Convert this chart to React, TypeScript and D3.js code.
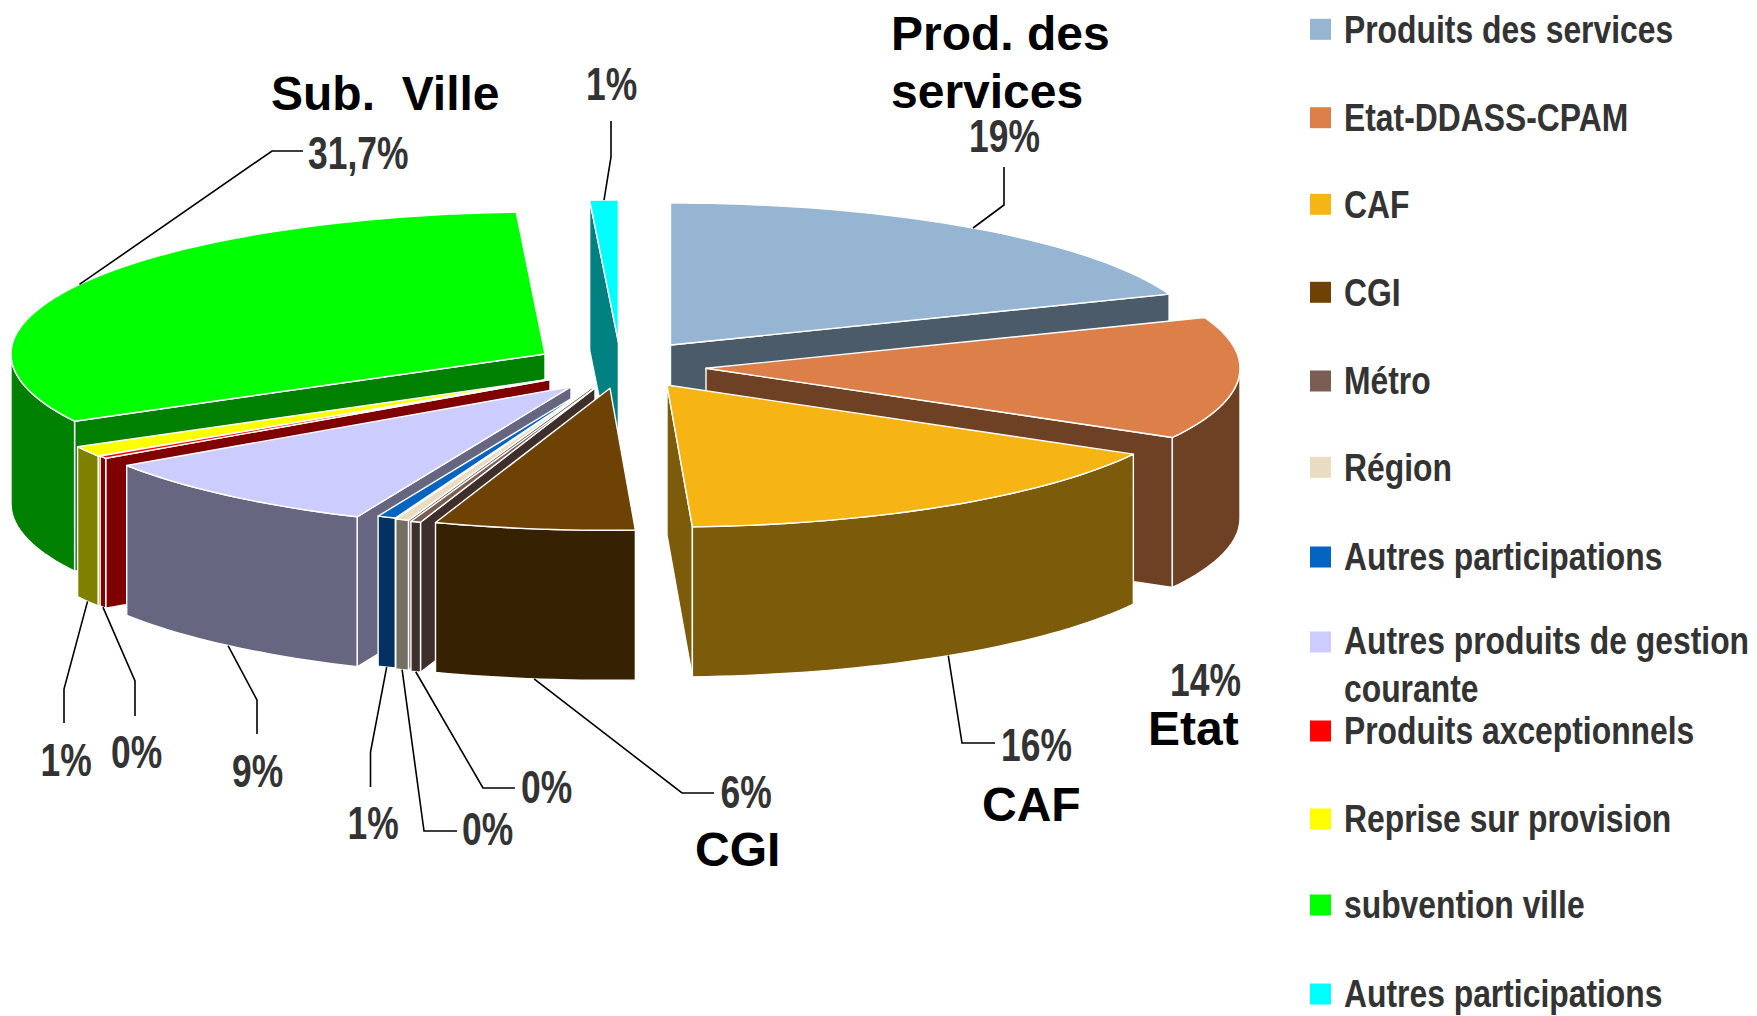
import React from "react";
import * as d3 from "d3";

// ---- data ----
const categories = ["Produits des services","Etat-DDASS-CPAM","CAF","CGI","Métro","Région","Autres participations","Autres produits de gestion|courante","Produits axceptionnels","Reprise sur provision","subvention ville","Autres participations"];
const values = [19, 13.8, 16.0, 6.0, 0.3, 0.4, 0.55, 9, 0.3, 1.2, 31.7, 0.85];
const colors = ["#95b5d2","#dc7f48","#f7b515","#6e4205","#7b5e53","#e9dcc3","#0563c1","#ccccff","#ff0000","#ffff00","#00ff00","#00ffff"];
const valueLabels = ["19%","14%","16%","6%","0%","0%","1%","9%","0%","1%","31,7%","1%"];

// ---- layout ----
const RX = 534, RY = 142, DEPTH = 150;
const apexX = [670.5, 706, 667, 610, 595, 592.5, 592, 571, 550, 548, 545, 618.4];
const apexY = [345, 368.3, 385, 388.3, 388, 387, 386, 386.7, 379.5, 379.5, 354, 342];
// label anchor (text left, baseline), elbows of the leader line
const labelX = [969, 1170, 1001, 720.5, 521, 462, 347.5, 232, 111, 40.5, 308, 586];
const labelY = [152, 696, 761, 808, 803, 845, 839, 787, 768, 776, 169, 100];
const leaderBottom = [false, false, true, true, true, true, true, true, true, true, false, false];
const leaderElbows: number[][][] = [
  [[1004,205],[1004,167]],
  [],
  [[962,743],[995,743]],
  [[682,793],[714,793]],
  [[483,788],[515,788]],
  [[424,831],[457,831]],
  [[370.5,752],[370.5,787]],
  [[257,700],[257,734]],
  [[135,681],[135,716]],
  [[64,689],[64,723]],
  [[272,151],[303,151]],
  [[611,157],[611,121]],
];
const legendY = [29.3,117.7,204.3,292.3,381,467.3,557,642,731,819,905,994];
const titles: [string, number, number][] = [
  ["Prod. des",891,50],["services",891,108],["Sub.  Ville",271,110],["Etat",1148,745],["CAF",982,821],["CGI",695,866],
];

const toRad = Math.PI / 180;
const pie = d3.pie<number>().sort(null).value((d) => d);
const arcs = pie(values);
const line = d3.line<number[]>().x((d) => d[0]).y((d) => d[1]);
const dark = (c: string) => {
  const r = d3.rgb(c);
  return d3.rgb(r.r * 0.5, r.g * 0.5, r.b * 0.5).formatHex();
};

function outer(i: number, t: number): number[] {
  return [apexX[i] + RX * Math.sin(t), apexY[i] - RY * Math.cos(t)];
}
function sample(i: number, a: number, b: number): number[][] {
  const n = Math.max(2, Math.ceil(Math.abs(b - a) / (1.5 * toRad)));
  return d3.range(n + 1).map((k) => outer(i, a + ((b - a) * k) / n));
}

const order = d3.range(values.length).sort((p, q) => {
  const d = (i: number) => {
    const m = ((arcs[i].startAngle + arcs[i].endAngle) / 2) % (2 * Math.PI);
    return Math.min(m, 2 * Math.PI - m);
  };
  return d(p) - d(q);
});

const sx = 0.825;
const STROKE = 1.4;

function Slice({ i }: { i: number }) {
  const { startAngle: a, endAngle: b } = arcs[i];
  const wall = dark(colors[i]);
  const apex = [apexX[i], apexY[i]];
  const radial = (t: number) => {
    const p = outer(i, t);
    return line([apex, p, [p[0], p[1] + DEPTH], [apex[0], apex[1] + DEPTH]])! + "Z";
  };
  const lo = Math.max(a, Math.PI / 2);
  const hi = Math.min(b, (3 * Math.PI) / 2);
  let outerWall: string | null = null;
  if (hi > lo) {
    const top = sample(i, lo, hi);
    const bottom = top.map((p) => [p[0], p[1] + DEPTH]).reverse();
    outerWall = line([...top, ...bottom])! + "Z";
  }
  const topPath = line([apex, ...sample(i, a, b)])! + "Z";
  const s = { stroke: "#fff", strokeWidth: STROKE, strokeLinejoin: "round" as const };
  return (
    <g>
      {a > Math.PI && <path d={radial(a)} fill={wall} {...s} />}
      {b < Math.PI && <path d={radial(b)} fill={wall} {...s} />}
      {outerWall && <path d={outerWall} fill={wall} {...s} />}
      <path d={topPath} fill={colors[i]} {...s} />
    </g>
  );
}

function Narrow({ x, y, children, size, scale }: any) {
  return (
    <text transform={`translate(${x},${y}) scale(${scale},1)`} fontFamily="'Liberation Sans', Arial, sans-serif" fontWeight="700" fontSize={size} fill="#333333">
      {children}
    </text>
  );
}

export default function App() {
  return (
    <svg width={1757} height={1016} viewBox="0 0 1757 1016" style={{ position: "absolute", left: 0, top: 0, display: "block", background: "#fff" }}>
      {order.map((i) => <Slice key={i} i={i} />)}
      {values.map((_, i) => {
        if (!leaderElbows[i].length) return null;
        const mid = (arcs[i].startAngle + arcs[i].endAngle) / 2;
        const p = outer(i, mid);
        const start = [p[0], p[1] + (leaderBottom[i] ? DEPTH : 0)];
        return <path key={i} d={line([start, ...leaderElbows[i]])!} fill="none" stroke="#000" strokeWidth={1.6} />;
      })}
      {valueLabels.map((t, i) => (
        <Narrow key={i} x={labelX[i]} y={labelY[i]} size={46} scale={0.77}>{t}</Narrow>
      ))}
      {titles.map(([t, x, y], i) => (
        <text key={i} x={x} y={y} xmlSpace="preserve" fontFamily="'Liberation Sans', Arial, sans-serif" fontWeight="700" fontSize={48} fill="#000">{t}</text>
      ))}
      {categories.map((c, i) => (
        <g key={i}>
          <rect x={1310} y={legendY[i] - 10.5} width={21} height={21} fill={colors[i]} />
          {c.split("|").map((part, k) => (
            <Narrow key={k} x={1344} y={(k === 0 && c.includes("|") ? legendY[i] - 1 : legendY[i]) + 13.4 + k * 47} size={38.6} scale={sx}>{part}</Narrow>
          ))}
        </g>
      ))}
    </svg>
  );
}
